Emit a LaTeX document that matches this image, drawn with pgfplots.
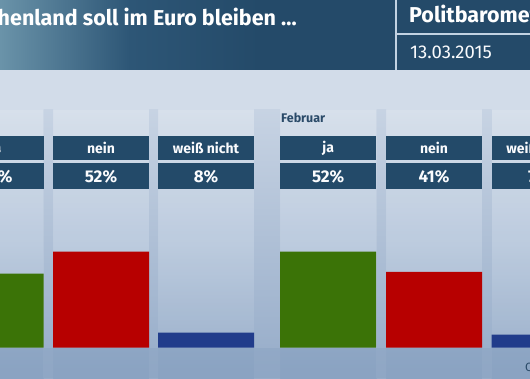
\documentclass[border=0pt]{standalone}
\usepackage{pgfplots}
\pgfplotsset{compat=1.18}
\usepackage{fontspec}
\setmainfont{Fira Sans}
\definecolor{banner}{HTML}{244A69}
\definecolor{bannerL}{HTML}{6A93A9}
\definecolor{bannerM}{HTML}{2D5676}
\definecolor{boxc}{HTML}{234A69}
\definecolor{bgtop}{HTML}{D2DCE9}
\definecolor{bgmid}{HTML}{B3C4DA}
\definecolor{bgbot}{HTML}{8AA3C2}
\definecolor{gapc}{HTML}{9AAFCB}
\definecolor{sepc}{HTML}{C2D2E2}
\definecolor{jagreen}{HTML}{3B7307}
\definecolor{neinred}{HTML}{B70000}
\definecolor{wnblue}{HTML}{213C8B}
\definecolor{darktext}{HTML}{2A4A68}

\begin{document}
\begin{tikzpicture}
\useasboundingbox (0pt,0pt) rectangle (530pt,378pt);
\clip (0pt,0pt) rectangle (530pt,378pt);
% ---------- background (pixel coordinates, y downwards) ----------
\begin{scope}[x=1pt, y=-1pt, shift={(0pt,378pt)}]
  \fill[bgtop] (0,0) rectangle (530,110);
  \shade[top color=bgtop, bottom color=bgbot, middle color=bgmid] (0,110) rectangle (530,378);
  \foreach \a/\b in {43.5/53, 149/158, 254/280, 376.5/386, 482/491.5}{
    \shade[top color=bgtop!80!gapc, bottom color=gapc!70!bgbot] (\a,110) rectangle (\b,378);
  }
  \foreach \a/\b in {-52.5/43.5, 53/149, 158/254, 280/376.5, 386/482, 491.5/587.5}{
    \fill[white, opacity=0.12] (\a,110) rectangle (\b,348);
  }
  \fill[bgbot, opacity=0.5] (0,348) rectangle (530,378);
  % ---------- banner ----------
  \shade[left color=bannerL, right color=bannerM] (0,0) rectangle (130,70);
  \shade[left color=bannerM, right color=banner] (130,0) rectangle (260,70);
  \fill[banner] (260,0) rectangle (530,70);
  \fill[sepc] (395,0) rectangle (397,70);
  \fill[sepc] (397,33) rectangle (530,35);
  \node[anchor=base east, inner sep=0pt, text=white] at (297,26)
    {\fontsize{21.5}{24}\selectfont\bfseries Griechenland soll im Euro bleiben …};
  \node[anchor=base west, inner sep=0pt, text=white] at (409,23)
    {\fontsize{21.5}{24}\selectfont\bfseries Politbarometer};
  \node[anchor=base west, inner sep=0pt, text=white!92!sepc] at (410,59)
    {\fontsize{18.5}{22}\selectfont 13.03.2015};
  % ---------- group labels ----------
  \node[anchor=west, inner sep=0pt, text=darktext] at (281,118)
    {\fontsize{12.5}{14}\selectfont\bfseries Februar};
  % ---------- label boxes ----------
  \foreach \c/\lab/\val in {-4.5/ja/40, 101/nein/52, 206/weiß nicht/8, 328.2/ja/52, 434/nein/41, 539.5/weiß nicht/7}{
    \fill[boxc] (\c-48,136) rectangle (\c+48,160);
    \fill[boxc] (\c-48,163) rectangle (\c+48,189);
    \node[inner sep=0pt, text=white!92!sepc] at (\c,148) {\fontsize{14}{16}\selectfont\bfseries \lab};
    \node[inner sep=0pt, text=white!92!sepc] at (\c,176.5) {\fontsize{17}{19}\selectfont\bfseries \val\%};
  }
  \node[anchor=base west, inner sep=0pt, text=darktext] at (525,371)
    {\fontsize{12}{14}\selectfont Quelle: Forschungsgruppe Wahlen};
\end{scope}
% ---------- bars ----------
\begin{axis}[at={(0pt,0pt)}, anchor=south west, scale only axis,
  width=530pt, height=378pt,
  xmin=0, xmax=530, ymin=-16.53, ymax=188.35,
  hide axis, ybar, bar width=96, bar shift=0pt]
  \addplot[fill=jagreen, draw=none] coordinates {(-4.5,40) (328.2,52)};
  \addplot[fill=neinred, draw=none] coordinates {(101,52) (434,41)};
  \addplot[fill=wnblue, draw=none] coordinates {(206,8) (539.5,7)};
\end{axis}
\end{tikzpicture}
\end{document}
